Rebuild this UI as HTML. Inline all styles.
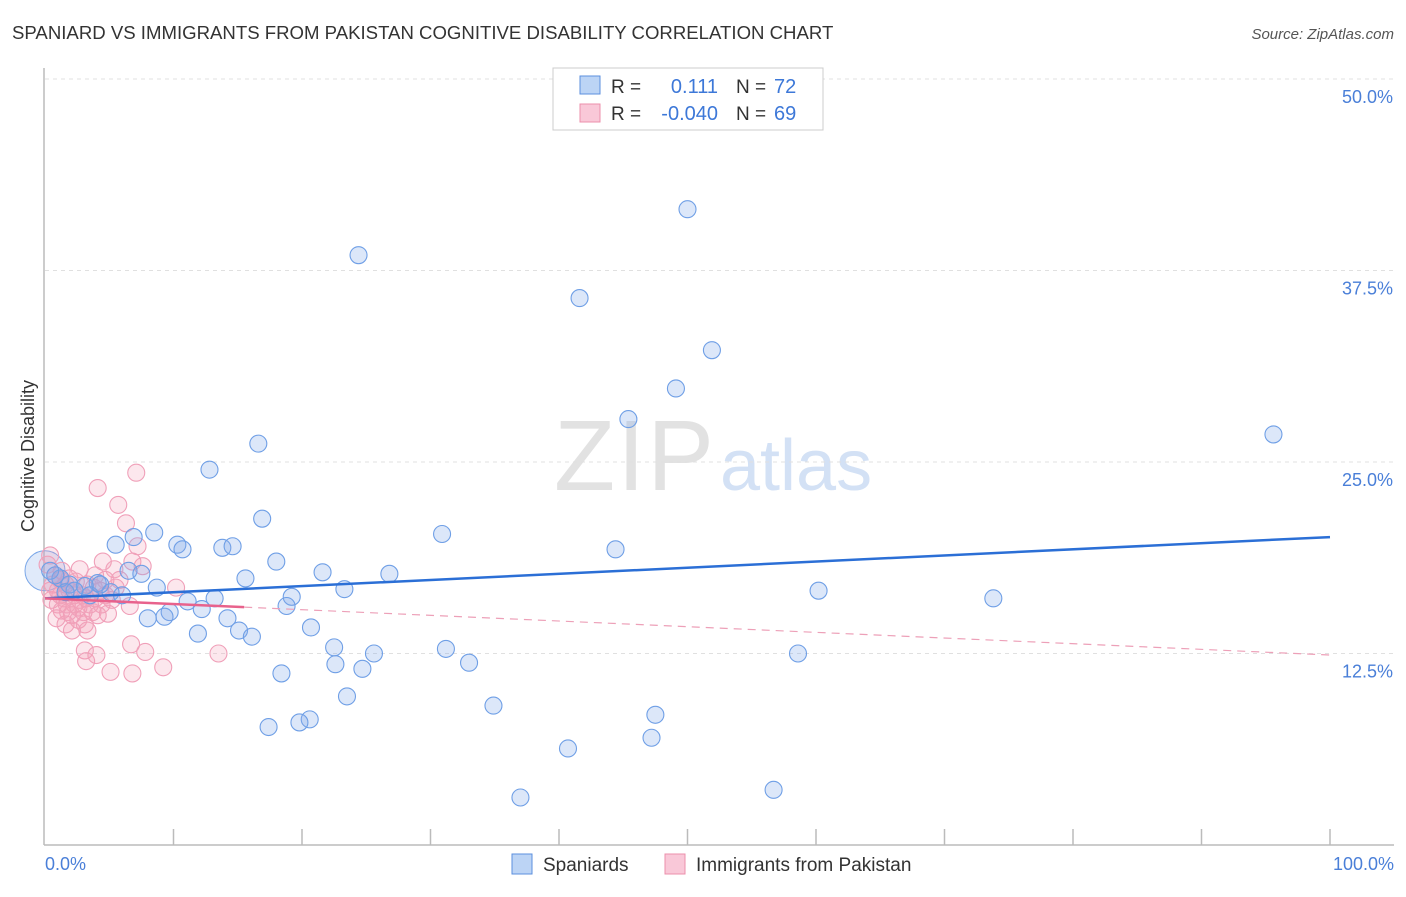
<!DOCTYPE html>
<html><head><meta charset="utf-8"><style>
body{margin:0;background:#fff;font-family:"Liberation Sans",sans-serif;}
svg text{font-family:"Liberation Sans",sans-serif;}
</style></head><body>
<svg width="1406" height="892">
<text x="12" y="39" font-size="18.6" fill="#333">SPANIARD VS IMMIGRANTS FROM PAKISTAN COGNITIVE DISABILITY CORRELATION CHART</text>
<text x="1394" y="39" font-size="15" fill="#555" font-style="italic" text-anchor="end">Source: ZipAtlas.com</text>
<text x="714" y="490" font-size="100" fill="#e2e2e2" font-family="Liberation Serif" text-anchor="end" textLength="160">ZIP</text>
<text x="720" y="490" font-size="72" fill="#d3e1f5">atlas</text>
<g id="grid"></g>
<g id="axes"></g>
<g id="pts"></g>
<g id="lines"></g>
<text transform="translate(34,456) rotate(-90)" font-size="18" fill="#333" text-anchor="middle">Cognitive Disability</text>
<text x="45" y="870" font-size="18" fill="#4a7fd8">0.0%</text>
<text x="1394" y="870" font-size="18" fill="#4a7fd8" text-anchor="end">100.0%</text>
<g>
<rect x="553" y="68" width="270" height="62" fill="#fff" stroke="#ccc"/>
<rect x="580" y="76" width="20" height="18" fill="#bcd4f5" stroke="#5b8fde"/>
<rect x="580" y="104" width="20" height="18" fill="#f9c8d8" stroke="#ec8fab"/>
<text x="611" y="93" font-size="19" fill="#333">R = </text><text x="718" y="93" font-size="20" fill="#3d78d8" text-anchor="end">0.111</text>
<text x="736" y="93" font-size="19" fill="#333">N = </text><text x="774" y="93" font-size="20" fill="#3d78d8">72</text>
<text x="611" y="120" font-size="19" fill="#333">R = </text><text x="718" y="120" font-size="20" fill="#3d78d8" text-anchor="end">-0.040</text>
<text x="736" y="120" font-size="19" fill="#333">N = </text><text x="774" y="120" font-size="20" fill="#3d78d8">69</text>
</g>
<g>
<rect x="512" y="854" width="20" height="20" fill="#bcd4f5" stroke="#5b8fde"/>
<text x="543" y="871" font-size="19" fill="#333">Spaniards</text>
<rect x="665" y="854" width="20" height="20" fill="#f9c8d8" stroke="#ec8fab"/>
<text x="696" y="871" font-size="19" fill="#333">Immigrants from Pakistan</text>
</g>
</svg>
<script>
const yTicks=[12.5,25,37.5,50];
const yTickLabels=["12.5%","25.0%","37.5%","50.0%"];
const xTicks=[10,20,30,40,50,60,70,80,90,100];
const blueX=[50.0,24.4,41.6,51.9,49.1,45.4,95.6,16.6,12.8,16.9,30.9,8.5,6.9,5.5,10.3,10.7,13.8,14.6,44.4,18.0,6.5,7.5,21.6,26.8,15.6,4.1,1.2,1.9,3.1,8.7,23.3,60.2,5.1,19.2,11.1,13.2,6.0,73.8,18.8,12.2,9.7,9.3,8.0,14.2,20.7,15.1,11.9,16.1,22.5,31.2,25.6,58.6,33.0,22.6,24.7,18.4,23.5,34.9,47.5,20.6,19.8,17.4,47.2,40.7,56.7,37.0,0.4,0.8,2.3,3.5,4.3,1.6];
const blueY=[41.5,38.5,35.7,32.3,29.8,27.8,26.8,26.2,24.5,21.3,20.3,20.4,20.1,19.6,19.6,19.3,19.4,19.5,19.3,18.5,17.9,17.7,17.8,17.7,17.4,17.1,17.4,17.0,16.9,16.8,16.7,16.6,16.5,16.2,15.9,16.1,16.3,16.1,15.6,15.4,15.2,14.9,14.8,14.8,14.2,14.0,13.8,13.6,12.9,12.8,12.5,12.5,11.9,11.8,11.5,11.2,9.7,9.1,8.5,8.2,8.0,7.7,7.0,6.3,3.6,3.1,17.9,17.6,16.6,16.3,17.0,16.5];
const pinkX=[7.1,4.1,5.7,6.3,7.2,4.5,6.8,7.6,5.4,2.7,3.9,10.2,6.6,4.9,7.8,6.7,4.0,3.1,3.2,5.1,6.8,9.2,13.5,0.4,0.2,0.8,1.2,1.6,1.9,2.3,2.7,0.5,1.0,1.3,1.8,2.1,2.6,3.1,3.5,3.9,4.3,4.7,5.2,5.8,3.3,3.7,1.6,0.9,0.4,2.3,2.9,1.5,4.1,4.4,1.9,1.2,0.6,2.4,3.2,3.8,4.7,3.0,1.0,1.7,2.6,3.3,2.1,5.5,1.3];
const pinkY=[24.3,23.3,22.2,21.0,19.5,18.5,18.5,18.2,18.0,18.0,17.6,16.8,15.6,15.1,12.6,13.1,12.4,12.7,12.0,11.3,11.2,11.6,12.5,18.9,18.3,17.6,17.3,17.0,16.6,16.3,16.0,16.0,15.7,15.3,15.2,15.0,14.7,14.4,15.7,16.1,16.6,16.3,16.0,17.3,17.0,15.2,14.4,14.8,16.6,15.7,16.3,16.1,15.0,15.7,17.4,16.3,17.0,17.2,16.1,16.8,17.3,15.2,16.6,15.7,15.5,14.0,14.0,16.8,17.9];
const blueTrend=[16.1,20.1];
const pinkTrend=[16.1,12.4];
const NS='http://www.w3.org/2000/svg';
const X0=45,X1=1330,Y0=845,PPY=191.5/12.5;
const sx=v=>X0+(X1-X0)*v/100, sy=v=>Y0-v*PPY;
function mk(t,a,p){const e=document.createElementNS(NS,t);for(const k in a)e.setAttribute(k,a[k]);p.appendChild(e);return e;}
const grid=document.getElementById('grid'),axes=document.getElementById('axes'),pts=document.getElementById('pts'),lines=document.getElementById('lines');
yTicks.forEach((t,i)=>{
 const g=mk('line',{x1:45,x2:1394,y1:sy(t),y2:sy(t),stroke:'#e0e0e0','stroke-dasharray':'4,4'},grid);
 
 
 const l=mk('text',{x:1393,y:sy(t)+24,'font-size':18,fill:'#4a7fd8','text-anchor':'end'},axes);
 l.textContent=yTickLabels[i];
 
 
});
const ax=mk('line',{x1:44,x2:44,y1:68,y2:845,stroke:'#bbb','stroke-width':1.5},axes);


const bx=mk('line',{x1:44,x2:1394,y1:845,y2:845,stroke:'#bbb','stroke-width':1.5},axes);


xTicks.forEach(t=>{
 const k=mk('line',{x1:sx(t),x2:sx(t),y1:829,y2:845,stroke:'#bbb','stroke-width':1.5},axes);
 
 
});
const big=mk('circle',{cx:sx(0),cy:sy(17.9),r:20,fill:'rgba(130,170,235,0.25)',stroke:'#7aa7e8'},pts);


pinkX.forEach((x,i)=>{
 const c=mk('circle',{cx:sx(x),cy:sy(pinkY[i]),r:8.5,fill:'rgba(245,160,185,0.25)',stroke:'#f0a0b9','stroke-width':1.1},pts);
 
 
});
blueX.forEach((x,i)=>{
 const c=mk('circle',{cx:sx(x),cy:sy(blueY[i]),r:8.5,fill:'rgba(130,170,235,0.28)',stroke:'#6f9fe6','stroke-width':1.1},pts);
 
 
});
const bl=mk('line',{x1:sx(0),y1:sy(blueTrend[0]),x2:sx(100),y2:sy(blueTrend[1]),stroke:'#2b6fd6','stroke-width':2.5},lines);


const pm=pinkTrend[0]+(pinkTrend[1]-pinkTrend[0])*0.155;
const ps=mk('line',{x1:sx(0),y1:sy(pinkTrend[0]),x2:sx(15.5),y2:sy(pm),stroke:'#e8628c','stroke-width':2.5},lines);


const pd=mk('line',{x1:sx(15.5),y1:sy(pm),x2:sx(100),y2:sy(pinkTrend[1]),stroke:'#eda0b8','stroke-width':1.2,'stroke-dasharray':'8,6'},lines);


</script>
</body></html>
